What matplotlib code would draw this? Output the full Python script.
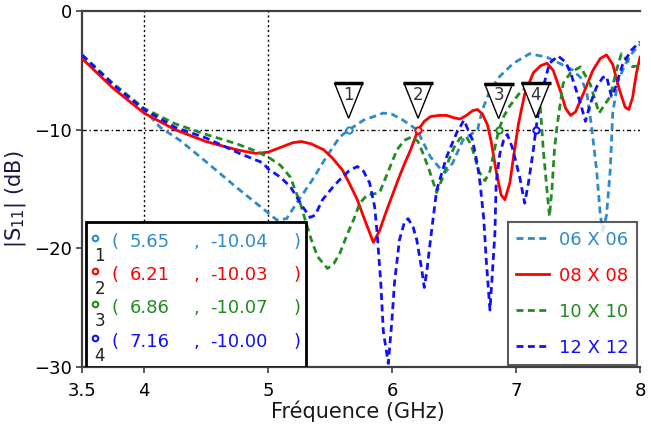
import numpy as np
import matplotlib as mpl
mpl.use('Agg')
import matplotlib.pyplot as plt
from matplotlib.patches import Polygon, Rectangle

# |S11| curves (GHz, dB)
f06 = [3.5, 3.75, 4.0, 4.13, 4.29, 4.5, 4.75, 5.0, 5.07, 5.15, 5.23, 5.36, 5.47, 5.58, 5.65,
       5.77, 5.88, 5.93, 6.0, 6.09, 6.2, 6.31, 6.39, 6.43, 6.49, 6.57, 6.69, 6.73, 6.79, 6.87,
       6.98, 7.11, 7.25, 7.35, 7.46, 7.52, 7.57, 7.61, 7.65, 7.68, 7.7, 7.73, 7.76, 7.78, 7.82,
       7.88, 7.94, 8.0]
s06 = [-3.7, -6.2, -8.3, -9.8, -10.9, -12.7, -14.9, -17.0, -17.6, -17.5, -16.2, -14.2, -12.3, -10.6, -10.04,
       -9.2, -8.8, -8.6, -8.7, -9.2, -10.0, -12.3, -13.3, -13.6, -12.8, -10.9, -10.0, -8.3, -6.7, -5.5,
       -4.4, -3.6, -3.9, -4.4, -5.0, -5.6, -6.8, -9.8, -13.4, -17.2, -18.5, -17.2, -13.4, -8.6, -6.0,
       -4.5, -3.5, -2.8]

f08 = [3.5, 3.75, 4.0, 4.25, 4.5, 4.75, 4.9, 5.0, 5.1, 5.2, 5.27, 5.35, 5.45, 5.52, 5.6,
       5.66, 5.72, 5.78, 5.85, 5.9, 5.95, 6.0, 6.05, 6.1, 6.15, 6.21, 6.26, 6.31, 6.38, 6.44,
       6.5, 6.55, 6.6, 6.65, 6.69, 6.73, 6.77, 6.8, 6.84, 6.88, 6.91, 6.95, 6.98, 7.02, 7.07,
       7.14, 7.2, 7.25, 7.3, 7.36, 7.4, 7.44, 7.48, 7.55, 7.62, 7.68, 7.73, 7.78, 7.83, 7.88,
       7.91, 7.94, 7.97, 8.0]
s08 = [-4.0, -6.5, -8.6, -10.0, -11.0, -11.7, -12.0, -11.9, -11.5, -11.1, -11.0, -11.2, -11.7, -12.4, -13.4,
       -14.6, -15.9, -17.6, -19.5, -18.5, -17.0, -15.6, -14.2, -12.9, -11.7, -10.03, -9.3, -8.9, -8.8, -8.8,
       -9.0, -9.1, -8.8, -8.4, -8.3, -8.7, -9.6, -11.0, -13.5, -15.5, -15.9, -14.5, -12.3, -9.5, -7.0,
       -5.2, -4.6, -4.4, -5.0, -6.8, -8.2, -8.8, -8.5, -6.8, -5.0, -4.0, -3.7, -4.5, -6.5, -8.1,
       -8.3, -7.3, -5.3, -3.9]

f10 = [3.5, 3.75, 4.0, 4.25, 4.5, 4.75, 4.9, 5.0, 5.1, 5.18, 5.26, 5.3, 5.35, 5.4, 5.48,
       5.53, 5.58, 5.64, 5.69, 5.74, 5.8, 5.86, 5.9, 5.97, 6.04, 6.1, 6.16, 6.21, 6.25, 6.3,
       6.36, 6.41, 6.46, 6.5, 6.55, 6.6, 6.64, 6.7, 6.75, 6.79, 6.83, 6.86, 6.9, 6.95, 7.03,
       7.11, 7.19, 7.22, 7.25, 7.27, 7.29, 7.31, 7.33, 7.38, 7.44, 7.52, 7.6, 7.67, 7.76, 7.81,
       7.85, 7.94, 8.0]
s10 = [-3.7, -6.1, -8.2, -9.5, -10.4, -11.2, -11.8, -12.3, -13.0, -14.0, -16.2, -17.6, -19.3, -20.7, -21.7,
       -21.3, -20.4, -18.8, -17.6, -16.2, -15.5, -15.4, -15.3, -13.5, -11.7, -10.9, -10.6, -11.0, -12.0, -13.4,
       -15.3, -14.0, -12.5, -11.5, -10.7, -10.6, -11.3, -13.5, -14.3, -13.5, -11.5, -10.07, -8.9, -8.0, -6.9,
       -6.2, -7.2, -11.7, -15.1, -17.3, -15.0, -11.7, -9.8, -6.1, -5.2, -4.7, -6.2, -8.6, -7.2, -5.0,
       -3.6, -4.7, -4.6]

f12 = [3.5, 3.75, 4.0, 4.25, 4.5, 4.77, 4.96, 5.0, 5.1, 5.18, 5.28, 5.34, 5.38, 5.44, 5.51,
       5.58, 5.65, 5.72, 5.77, 5.82, 5.86, 5.88, 5.91, 5.93, 5.97, 6.0, 6.02, 6.06, 6.1, 6.13,
       6.17, 6.2, 6.24, 6.26, 6.28, 6.31, 6.36, 6.44, 6.52, 6.58, 6.65, 6.69, 6.71, 6.74, 6.76,
       6.79, 6.81, 6.83, 6.84, 6.87, 6.9, 6.93, 6.97, 7.03, 7.07, 7.1, 7.14, 7.16, 7.2, 7.27,
       7.34, 7.4, 7.44, 7.52, 7.56, 7.6, 7.65, 7.7, 7.73, 7.77, 7.8, 7.86, 7.93, 8.0]
s12 = [-3.7, -6.2, -8.3, -9.8, -10.7, -12.0, -12.8, -13.3, -14.0, -14.8, -16.5, -17.4, -17.2, -15.9, -15.0,
       -14.2, -13.5, -13.1, -13.5, -14.5, -16.5, -18.7, -23.0, -27.0, -29.7, -26.0, -22.9, -19.3, -17.8, -17.5,
       -18.2, -19.3, -21.8, -23.3, -22.0, -19.3, -15.1, -12.3, -10.3, -9.2, -10.9, -13.0, -14.5, -17.5, -21.0,
       -25.2, -22.0, -18.7, -14.5, -12.0, -10.9, -10.4, -11.5, -14.0, -16.2, -14.5, -11.7, -10.0, -7.2, -4.4,
       -3.8, -4.3, -5.2, -7.8, -9.3, -7.8, -6.4, -5.6, -5.5, -7.2, -6.5, -4.5, -3.3, -2.6]

labels = ['06 X 06', '08 X 08', '10 X 10', '12 X 12']
colors = ['#2e8bc9', '#ff0000', '#228b22', '#1010ff']
styles = ['--', '-', '--', '--']

# markers
mk_f = [5.65, 6.21, 6.86, 7.16]
mk_db = [-10.04, -10.03, -10.07, -10.00]

xticks = [3.5, 4, 5, 6, 7, 8]
yticks = [0, -10, -20, -30]
grid_x = [4, 5]
grid_y = [-10]

fig = plt.figure(figsize=(6.51, 4.24), dpi=100)
ax = fig.add_axes([82/651, 1-367/424, 558/651, 356/424])

for gx in grid_x:
    ax.axvline(gx, color='k', lw=1, ls=(0, (1.5, 2)), zorder=1)
for gy in grid_y:
    ax.axhline(gy, color='k', lw=1, ls=(0, (3, 2, 1, 2)), zorder=1)

series = [(f06, s06), (f08, s08), (f10, s10), (f12, s12)]
for (f, s), lab, c, st in zip(series, labels, colors, styles):
    if st == '-':
        ax.plot(f, s, color=c, lw=2, label=lab, zorder=3)
    else:
        ax.plot(f, s, color=c, lw=2, ls=(0, (2.5, 1.6)), label=lab, zorder=3)

# marker flags
for i, (fm, ym) in enumerate(zip(mk_f, mk_db)):
    c = colors[i]
    ax.plot(fm, ym, 'o', ms=4.5, mfc='white', mec=c, mew=1.5, zorder=5)
    tri = Polygon([(fm-0.113, ym+3.95), (fm+0.113, ym+3.95), (fm, ym+1.0)],
                  closed=True, fc='white', ec='k', lw=1, zorder=6)
    ax.add_patch(tri)
    ax.plot([fm-0.12, fm+0.12], [ym+3.95, ym+3.95], color='k', lw=2.5, zorder=7,
            solid_capstyle='butt')
    ax.text(fm, ym+2.95, str(i+1), ha='center', va='center', fontsize=12,
            color='#333333', zorder=8)

# marker table
ax.add_patch(Rectangle((0.007, 0.0), 0.394, 0.407, transform=ax.transAxes,
                       fc='white', ec='black', lw=2, zorder=9))
row_y = [0.351, 0.258, 0.166, 0.070]
for i in range(4):
    c = colors[i]
    y = row_y[i]
    ax.plot(0.023, y+0.012, 'o', ms=4, mfc='white', mec=c, mew=1.5,
            transform=ax.transAxes, zorder=10, clip_on=False)
    ax.text(0.032, y-0.038, str(i+1), transform=ax.transAxes, fontsize=12,
            ha='center', va='center', color='#222222', zorder=10)
    ax.text(0.059, y, '(', transform=ax.transAxes, fontsize=13, color=c,
            ha='center', va='center', zorder=10)
    ax.text(0.086, y, '%.2f' % mk_f[i], transform=ax.transAxes, fontsize=13, color=c,
            ha='left', va='center', zorder=10)
    ax.text(0.206, y, ',', transform=ax.transAxes, fontsize=13, color=c,
            ha='center', va='center', zorder=10)
    ax.text(0.229, y, '%.2f' % mk_db[i], transform=ax.transAxes, fontsize=13, color=c,
            ha='left', va='center', zorder=10)
    ax.text(0.385, y, ')', transform=ax.transAxes, fontsize=13, color=c,
            ha='center', va='center', zorder=10)

leg = ax.legend(loc='lower right', bbox_to_anchor=(0.995, 0.006), fontsize=13,
                frameon=True, fancybox=False, handlelength=1.8, handletextpad=0.6,
                labelspacing=1.0, borderpad=0.45, borderaxespad=0.0,
                labelcolor='linecolor')
leg.get_frame().set_edgecolor('#333333')
leg.get_frame().set_linewidth(1.5)
leg.set_zorder(11)

ax.set_xlim(3.5, 8)
ax.set_ylim(-30, 0)
ax.set_xticks(xticks)
ax.set_xticklabels(['3.5', '4', '5', '6', '7', '8'])
ax.set_yticks(yticks)
ax.tick_params(labelsize=13, direction='out', length=4, width=1.2, color='#404040')
ax.tick_params(axis='x', pad=7)
ax.tick_params(axis='y', pad=3)
ax.spines['right'].set_visible(False)
for sp in ['left', 'bottom', 'top']:
    ax.spines[sp].set_color('#404040')
    ax.spines[sp].set_linewidth(1.6)

fig.text(358/651, 0.004, 'Fréquence (GHz)', ha='center', va='bottom', fontsize=15,
         color='#1a1a1a')
fig.text(16/651, 1-199/424, r'|S$_{11}$| (dB)', ha='center', va='center', rotation=90,
         fontsize=15, color='#1a1a40')

fig.savefig('out.png', dpi=100)
